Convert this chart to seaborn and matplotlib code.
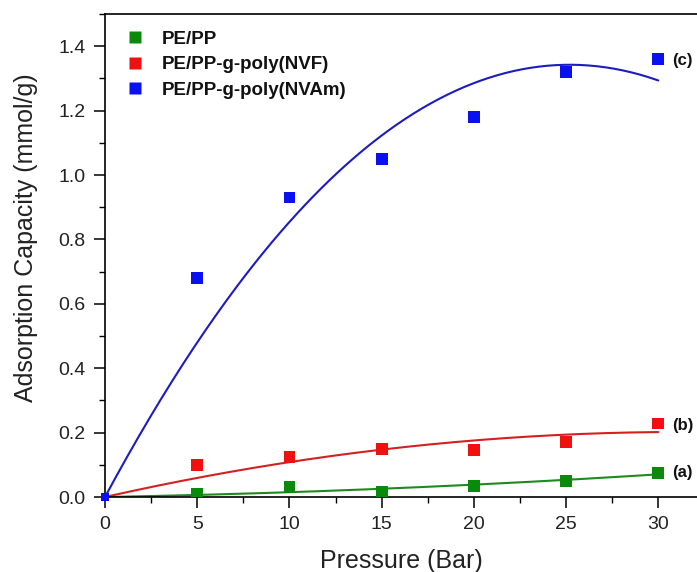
import numpy as np
import pandas as pd
import matplotlib
matplotlib.use("Agg")
import matplotlib.pyplot as plt
from matplotlib.ticker import MultipleLocator
import seaborn as sns

# Measured adsorption capacity (mmol/g) versus pressure (bar)
pressure = [0, 5, 10, 15, 20, 25, 30]
pe_pp = [0.0, 0.01, 0.03, 0.015, 0.035, 0.05, 0.075]
pe_pp_nvf = [0.0, 0.10, 0.125, 0.15, 0.145, 0.17, 0.228]
pe_pp_nvam = [0.0, 0.68, 0.93, 1.05, 1.18, 1.32, 1.36]

series_names = ["PE/PP", "PE/PP-g-poly(NVF)", "PE/PP-g-poly(NVAm)"]
series_tags = ["(a)", "(b)", "(c)"]
series_colors = ["#0a8a0a", "#f01010", "#0a10f0"]
fit_colors = ["#1e8a1e", "#d42020", "#1c1cc0"]

sns.set_style("ticks")
plt.rcParams["font.family"] = ["Liberation Sans", "DejaVu Sans"]

fig = plt.figure(figsize=(6.97, 5.72), dpi=100)
ax = fig.add_axes([105 / 697, 75 / 572, 592 / 697, 483 / 572])

values = [pe_pp, pe_pp_nvf, pe_pp_nvam]
df = pd.DataFrame({
    "Pressure": np.tile(pressure, len(values)),
    "Capacity": np.concatenate(values),
    "Sample": np.repeat(series_names, len(pressure)),
})

# Second-order polynomial fits constrained through the origin
x = np.asarray(pressure, dtype=float)
xs = np.linspace(0, 30, 200)
fit_rows = []
for name, y in zip(series_names, values):
    design = np.column_stack([x, x ** 2])
    (a, b), *_ = np.linalg.lstsq(design, np.asarray(y), rcond=None)
    fit_rows.append(pd.DataFrame({"Pressure": xs, "Capacity": a * xs + b * xs ** 2, "Sample": name}))
fit_df = pd.concat(fit_rows, ignore_index=True)

sns.lineplot(data=fit_df, x="Pressure", y="Capacity", hue="Sample",
             palette=dict(zip(series_names, fit_colors)), linewidth=1.5,
             legend=False, ax=ax, zorder=2)
sns.scatterplot(data=df[df["Pressure"] > 0], x="Pressure", y="Capacity", hue="Sample",
                palette=dict(zip(series_names, series_colors)), marker="s", s=72,
                edgecolor="none", ax=ax, zorder=3)
ax.scatter([0], [0], marker="s", s=30, color=series_colors[2], edgecolor="none", zorder=4,
           clip_on=False)

# Curve labels at the right end
for tag, y in zip(series_tags, values):
    ax.text(30.75, y[-1] - (0.005 if tag != "(a)" else 0.0), tag, fontsize=12,
            fontweight="bold", va="center", ha="left", color="#111111")

ax.set_xlim(0, 32.1)
ax.set_ylim(0, 1.5)
ax.xaxis.set_major_locator(MultipleLocator(5))
ax.xaxis.set_minor_locator(MultipleLocator(2.5))
ax.yaxis.set_minor_locator(MultipleLocator(0.1))
ax.tick_params(which="major", length=8, width=1.1, labelsize=14, direction="out", color="black",
               pad=6, labelcolor="#222222")
ax.tick_params(which="minor", length=4, width=1.0, direction="out", color="black")
ax.set_yticks(np.arange(0, 1.41, 0.2))
ax.set_yticklabels([f"{v:.1f}" for v in np.arange(0, 1.41, 0.2)])

for side in ["left", "bottom", "top"]:
    ax.spines[side].set_linewidth(1.2)
    ax.spines[side].set_color("black")
ax.spines["right"].set_visible(False)

ax.set_xlabel("Pressure (Bar)", fontsize=18, labelpad=11, color="#222222")
ax.set_ylabel("Adsorption Capacity (mmol/g)", fontsize=18, color="#222222")
ax.yaxis.set_label_coords(-0.113, 0.536)

leg = ax.legend(loc="upper left", bbox_to_anchor=(0.006, 0.981), frameon=False,
                prop={"weight": "bold", "size": 13.5}, handletextpad=0.42,
                labelspacing=0.45, markerscale=1.0, borderaxespad=0)
for t in leg.get_texts():
    t.set_color("#111111")

fig.savefig("out.png", dpi=100)
